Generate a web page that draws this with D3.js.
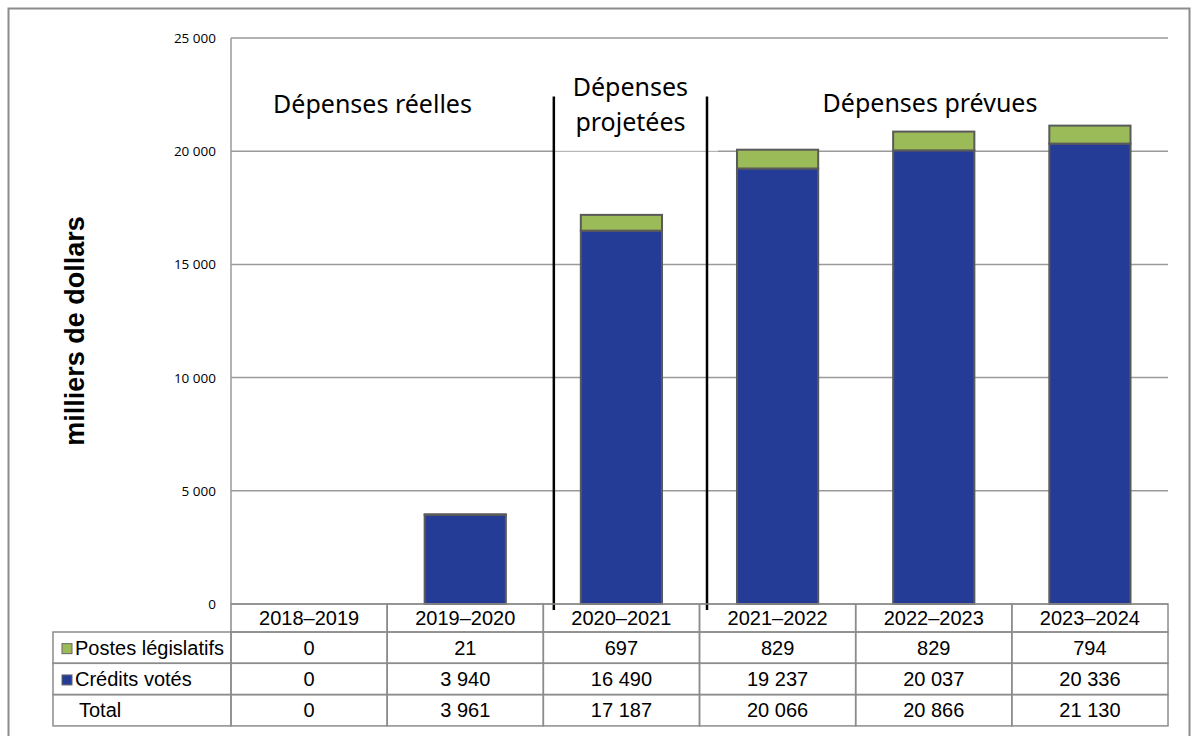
<!DOCTYPE html>
<html>
<head>
<meta charset="utf-8">
<script src="https://cdn.jsdelivr.net/npm/d3@7"></script>
<style>
  body { margin: 0; background: #fff; }
  svg { display: block; }
</style>
</head>
<body>
<div id="chart"></div>
<script>
// données du graphique
const years = ["2018–2019", "2019–2020", "2020–2021", "2021–2022", "2022–2023", "2023–2024"];
const postesLegislatifs = [0, 21, 697, 829, 829, 794];
const creditsVotes = [0, 3940, 16490, 19237, 20037, 20336];
const totals = [0, 3961, 17187, 20066, 20866, 21130];
const yTicks = [0, 5000, 10000, 15000, 20000, 25000];
const seriesNames = ["Postes législatifs", "Crédits votés", "Total"];
const colors = {vote: "#253C96", postes: "#9BBB59"};

const width = 1191, height = 736;
const margin = {left: 231, right: 23, top: 38, bottom: 132};

const svg = d3.select("#chart").append("svg")
    .attr("width", width)
    .attr("height", height);

// cadre extérieur
svg.append("rect")
    .attr("x", 8.5).attr("y", 8.5)
    .attr("width", width - 10).attr("height", height)
    .attr("fill", "none")
    .attr("stroke", "#8c8c8c")
    .attr("stroke-width", 2);

const x = d3.scaleBand()
    .domain(years)
    .range([margin.left, width - margin.right])
    .paddingInner(0).paddingOuter(0);

const y = d3.scaleLinear()
    .domain([0, 25000])
    .range([height - margin.bottom, margin.top]);

const fmt = v => d3.format(",")(v).replace(/,/g, " ");

// grille
svg.append("g")
    .selectAll("line")
    .data(yTicks)
    .enter()
    .append("line")
    .attr("x1", margin.left)
    .attr("x2", width - margin.right)
    .attr("y1", d => y(d))
    .attr("y2", d => y(d))
    .attr("stroke", "#9a9a9a")
    .attr("stroke-width", 1.5);

// axe vertical
svg.append("line")
    .attr("x1", margin.left).attr("x2", margin.left)
    .attr("y1", y(25000)).attr("y2", y(0))
    .attr("stroke", "#9a9a9a")
    .attr("stroke-width", 1.5);

// étiquettes de l'axe y
svg.append("g")
    .selectAll("text")
    .data(yTicks)
    .enter()
    .append("text")
    .attr("x", margin.left - 15)
    .attr("y", d => y(d) + 5)
    .attr("text-anchor", "end")
    .attr("font-family", "'Open Sans', sans-serif")
    .attr("font-size", "13.5px")
    .attr("fill", "#000")
    .text(d => fmt(d));

// titre de l'axe y
svg.append("text")
    .attr("transform", `translate(84, ${(y(0) + y(25000)) / 2 + 10}) rotate(-90)`)
    .attr("text-anchor", "middle")
    .attr("font-family", "'Liberation Sans', Arial, sans-serif")
    .attr("font-weight", "bold")
    .attr("font-size", "27px")
    .text("milliers de dollars");

// barres empilées
const barW = x.bandwidth() * 0.52;
const stackData = years.map((yr, i) => ({year: yr, vote: creditsVotes[i], postes: postesLegislatifs[i]}));
const stacked = d3.stack().keys(["vote", "postes"])(stackData);

svg.append("g")
    .selectAll("g")
    .data(stacked)
    .enter()
    .append("g")
    .attr("fill", d => colors[d.key])
    .selectAll("rect")
    .data(d => d.filter(s => s[1] - s[0] > 0))
    .enter()
    .append("rect")
    .attr("x", d => x(d.data.year) + (x.bandwidth() - barW) / 2)
    .attr("width", barW)
    .attr("y", d => y(d[1]))
    .attr("height", d => y(d[0]) - y(d[1]))
    .attr("stroke", "#5a5a5a")
    .attr("stroke-width", 2);

// séparateurs entre réelles / projetées / prévues
const x2 = x(years[2]), x3 = x(years[3]);
const sepA = x2 + 10.5, sepB = x3 + 7.5;

// cache blanc derrière "Dépenses projetées"
svg.append("rect")
    .attr("x", sepA + 1)
    .attr("y", y(23700))
    .attr("width", sepB - sepA + 10)
    .attr("height", y(20000) - y(23700) + 0.2)
    .attr("fill", "#fff")
    .attr("opacity", 0.7);

[sepA, sepB].forEach(px => {
    svg.append("line")
        .attr("x1", px).attr("x2", px)
        .attr("y1", y(22420)).attr("y2", y(0) + 6)
        .attr("stroke", "#000")
        .attr("stroke-width", 2.5);
});

// étiquettes des périodes
const labelFont = "'Noto Sans', 'Open Sans', sans-serif";
svg.append("text")
    .attr("x", 372.5)
    .attr("y", y(21700))
    .attr("text-anchor", "middle")
    .attr("font-family", labelFont)
    .attr("font-size", "25px")
    .text("Dépenses réelles");

const projX = (sepA + sepB) / 2;
svg.append("text")
    .attr("y", y(22440))
    .attr("text-anchor", "middle")
    .attr("font-family", labelFont)
    .attr("font-size", "25px")
    .selectAll("tspan")
    .data(["Dépenses", "projetées"])
    .enter()
    .append("tspan")
    .attr("x", projX)
    .attr("dy", (d, i) => i === 0 ? 0 : 35.5)
    .text(d => d);

svg.append("text")
    .attr("x", 930)
    .attr("y", y(21750))
    .attr("text-anchor", "middle")
    .attr("font-family", labelFont)
    .attr("font-size", "25px")
    .text("Dépenses prévues");

// tableau de données
const tableFont = "'Liberation Sans', Arial, sans-serif";
const headTop = y(0), headH = 28, rowH = 31.3;
const legendLeft = 53;
const tableRows = [postesLegislatifs, creditsVotes, totals];
const g = svg.append("g");
const border = "#8c8c8c";

// en-tête (années)
years.forEach(yr => {
    g.append("rect")
        .attr("x", x(yr)).attr("y", headTop)
        .attr("width", x.bandwidth()).attr("height", headH)
        .attr("fill", "none").attr("stroke", border).attr("stroke-width", 1.5);
    g.append("text")
        .attr("x", x(yr) + x.bandwidth() / 2)
        .attr("y", headTop + headH / 2 + 7)
        .attr("text-anchor", "middle")
        .attr("font-family", tableFont)
        .attr("font-size", "20px")
        .text(yr);
});

tableRows.forEach((row, r) => {
    const top = headTop + headH + r * rowH;
    g.append("rect")
        .attr("x", legendLeft).attr("y", top)
        .attr("width", margin.left - legendLeft).attr("height", rowH)
        .attr("fill", "none").attr("stroke", border).attr("stroke-width", 1.5);
    if (r < 2) {
        g.append("rect")
            .attr("x", legendLeft + 9).attr("y", top + rowH / 2 - 4)
            .attr("width", 10).attr("height", 10)
            .attr("fill", r === 0 ? colors.postes : colors.vote)
            .attr("stroke", "#666").attr("stroke-width", 1);
    }
    g.append("text")
        .attr("x", r < 2 ? legendLeft + 22 : legendLeft + 26)
        .attr("y", top + rowH / 2 + 7)
        .attr("font-family", tableFont)
        .attr("font-size", "20px")
        .text(seriesNames[r]);
    row.forEach((v, i) => {
        g.append("rect")
            .attr("x", x(years[i])).attr("y", top)
            .attr("width", x.bandwidth()).attr("height", rowH)
            .attr("fill", "none").attr("stroke", border).attr("stroke-width", 1.5);
        g.append("text")
            .attr("x", x(years[i]) + x.bandwidth() / 2)
            .attr("y", top + rowH / 2 + 7)
            .attr("text-anchor", "middle")
            .attr("font-family", tableFont)
            .attr("font-size", "20px")
            .text(fmt(v));
    });
});
</script>
</body>
</html>
